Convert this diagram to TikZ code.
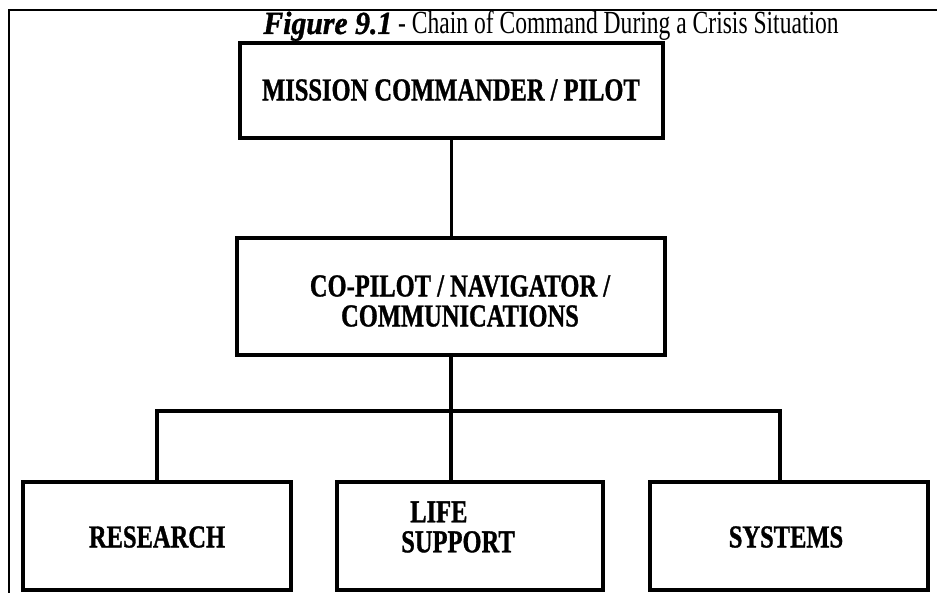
\documentclass[tikz,border=0pt]{standalone}
\usepackage{fontspec}
\setmainfont{Liberation Serif}[BoldFeatures={FakeBold=1.2},BoldItalicFeatures={FakeBold=1.2}]
\usepackage{graphicx}
\newcommand\tallbox[1]{\scalebox{1}[1.3]{#1}}
\begin{document}
\begin{tikzpicture}[x=1pt,y=-1pt,
  box/.style={draw,line width=3.3pt,inner sep=0pt},
  conn/.style={line width=3.4pt},
  lbl/.style={font=\fontsize{24.5}{30}\selectfont\bfseries,align=center,inner sep=0pt},
  frame/.style={line width=1.6pt}]
\useasboundingbox (0,0) rectangle (937,593);
% frame
\coordinate (fbl) at (9,593);
\coordinate (ftl) at (9,10);
\coordinate (ftr) at (937,10);
\draw[frame] (fbl) -- (ftl) -- (ftr);
% title
\node[anchor=base,inner sep=0pt,font=\fontsize{24.8}{30}\selectfont] (title) at (551,34)
  {\scalebox{1.2}[1.3]{\textbf{\textit{Figure 9.1}}}\scalebox{0.95}[1.3]{ - Chain of Command During a Crisis Situation}};
% boxes
\node[box,minimum width=423pt,minimum height=95pt] (mc) at (451.5,90.5) {};
\node[box,minimum width=428pt,minimum height=117pt] (cp) at (451,296.5) {};
\node[box,minimum width=268pt,minimum height=108pt] (res) at (157,536) {};
\node[box,minimum width=266pt,minimum height=108pt] (life) at (470,536) {};
\node[box,minimum width=278pt,minimum height=108pt] (sys) at (789,536) {};
% labels
\node[lbl] (mct) at (451,90) {\tallbox{MISSION COMMANDER / PILOT}};
\node[lbl] (cpt) at (460,301) {\tallbox{CO-PILOT / NAVIGATOR /}\\\tallbox{COMMUNICATIONS}};
\node[lbl] (rest) at (157,537) {\tallbox{RESEARCH}};
\node[lbl,align=left] (lifet) at (458,527) {\hspace{9pt}\tallbox{LIFE}\\\tallbox{SUPPORT}};
\node[lbl] (syst) at (786,537) {\tallbox{SYSTEMS}};
% connectors
\coordinate (busL) at (157,411);
\coordinate (busR) at (780,411);
\draw[conn] (mc.south) -- (mc.south |- cp.north);
\draw[conn] (cp.south) -- (cp.south |- life.north);
\draw[conn] (busL |- res.north) -- (busL) -- (busR) -- (busR |- sys.north);
\end{tikzpicture}
\end{document}
